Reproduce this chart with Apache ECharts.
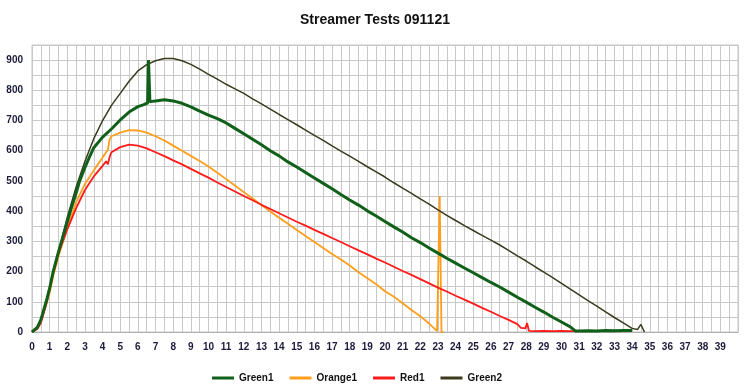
<!DOCTYPE html>
<html>
<head>
<meta charset="utf-8">
<script src="https://cdn.jsdelivr.net/npm/echarts@6/dist/echarts.min.js"></script>
<style>
html,body{margin:0;padding:0;background:#fff;}
#chart{width:750px;height:389px;}
</style>
</head>
<body>
<div id="chart"></div>
<script>
var chartTitle = 'Streamer Tests 091121';
var seriesNames = ['Green1', 'Orange1', 'Red1', 'Green2'];

var green1X = [0,0.3,0.5,0.8,1,1.2,1.5,1.7,2,2.2,2.5,2.7,3,3.3,3.5,4,4.5,5,5.5,6,6.3,6.55,6.6,6.68,7,7.5,8,8.5,9,9.5,10,10.5,11,11.5,12,12.5,13,13.5,14,14.5,15,15.5,16,16.5,17,17.5,18,18.5,19,19.5,20,20.5,21,21.5,22,22.5,23,23.5,24,24.5,25,25.5,26,26.5,27,27.5,28,28.5,29,29.5,30,30.5,30.8,31,31.5,32,32.5,33,33.5,34];
var green1Y = [0,15,40,100,145,200,265,305,365,405,460,500,545,585,610,645,672,702,728,746,752,758,900,762,765,769,765,757,745,731,718,706,692,674,656,638,620,600,583,563,546,528,510,492,474,455,437,420,401,384,366,348,331,312,296,278,261,244,228,212,196,180,164,149,132,115,99,82,66,49,33,17,3,3,4,3,5,4,5,5,5];

var orange1X = [0,0.3,0.5,0.8,1,1.2,1.5,2,2.5,3,3.5,4,4.3,4.4,4.5,5,5.5,6,6.5,7,7.5,8,8.5,9,9.5,10,10.5,11,11.5,12,12.5,13,13.5,14,14.5,15,15.5,16,16.5,17,17.5,18,18.5,19,19.5,20,20.5,21,21.5,22,22.5,22.95,23.05,23.1,23.17,23.2,23.3];
var orange1Y = [0,12,35,90,130,185,250,345,430,490,535,578,603,638,648,660,668,667,660,648,634,617,600,583,566,548,527,506,485,463,442,420,399,378,358,338,318,298,278,258,240,220,198,178,158,135,117,95,73,52,28,3,0,450,450,0,0];

var red1X = [0,0.3,0.5,0.8,1,1.2,1.5,2,2.5,3,3.5,4,4.2,4.3,4.4,4.5,5,5.5,6,6.5,7,7.5,8,8.5,9,9.5,10,10.5,11,11.5,12,12.5,13,13.5,14,14.5,15,15.5,16,16.5,17,17.5,18,18.5,19,19.5,20,20.5,21,21.5,22,22.5,23,23.5,24,24.5,25,25.5,26,26.5,27,27.5,27.7,27.95,28.05,28.15,28.5,29,29.5,30,30.5,30.8];
var red1Y = [0,10,30,90,140,195,260,340,410,470,515,550,565,555,580,595,612,620,617,608,595,582,568,555,540,525,511,495,480,465,450,436,421,407,393,379,365,352,338,325,311,298,284,270,257,243,230,216,202,189,175,161,147,134,120,107,94,80,67,53,40,26,14,12,30,4,3,4,3,4,3,3];

var green2X = [0,0.3,0.5,0.8,1,1.2,1.5,2,2.5,3,3.5,4,4.5,5,5.5,6,6.5,7,7.5,8,8.5,9,9.5,10,10.5,11,11.5,12,12.5,13,13.5,14,14.5,15,15.5,16,16.5,17,17.5,18,18.5,19,19.5,20,20.5,21,21.5,22,22.5,23,23.5,24,24.5,25,25.5,26,26.5,27,27.5,28,28.5,29,29.5,30,30.5,31,31.5,32,32.5,33,33.5,34,34.3,34.5,34.7];
var green2Y = [0,15,40,100,145,200,265,380,480,565,640,700,750,790,830,864,885,898,905,905,898,886,870,853,837,820,805,790,772,755,738,720,703,686,668,651,634,616,599,582,565,547,530,513,494,476,459,441,423,404,386,369,352,336,320,304,288,270,252,235,216,198,180,161,142,123,104,86,67,48,30,12,8,25,0];

function pairs(xs, ys) {
  return xs.map(function (x, i) { return [x, ys[i]]; });
}

var chart = echarts.init(document.getElementById('chart'));
var lbl = { fontFamily: 'Liberation Sans, Arial, sans-serif', fontWeight: 'bold', fontSize: 10, color: '#1a1a3a' };
chart.setOption({
  animation: false,
  backgroundColor: '#ffffff',
  title: {
    text: chartTitle,
    left: 'center',
    top: 8,
    textStyle: { fontFamily: 'Liberation Sans, Arial, sans-serif', fontWeight: 'bold', fontSize: 14, color: '#111' }
  },
  legend: {
    data: seriesNames,
    left: 207,
    top: 368,
    icon: 'rect',
    itemWidth: 22,
    itemHeight: 3,
    itemGap: 16,
    textStyle: { fontFamily: 'Liberation Sans, Arial, sans-serif', fontWeight: 'bold', fontSize: 10, color: '#111' }
  },
  grid: { left: 32, right: 12, top: 45, bottom: 57, show: true, borderColor: '#c4c4c4', borderWidth: 1 },
  xAxis: {
    type: 'value', min: 0, max: 40, interval: 0.5,
    axisLine: { show: true, lineStyle: { color: '#b0b0b0' } },
    axisTick: { show: false },
    splitLine: { show: true, lineStyle: { color: '#c8c8c8', width: 1 } },
    axisLabel: Object.assign({ margin: 10, formatter: function (v) { return (v % 1 === 0 && v < 40) ? String(v) : ''; } }, lbl)
  },
  yAxis: {
    type: 'value', min: 0, max: 950, interval: 50,
    axisLine: { show: false },
    axisTick: { show: false },
    splitLine: { show: true, lineStyle: { color: '#c8c8c8', width: 1 } },
    axisLabel: Object.assign({ margin: 9, formatter: function (v) { return (v % 100 === 0) ? String(v) : ''; } }, lbl)
  },
  series: [
    { name: 'Green1', type: 'line', data: pairs(green1X, green1Y), showSymbol: false, symbol: 'none', itemStyle: { color: '#11601a' }, lineStyle: { color: '#11601a', width: 3 }, z: 3 },
    { name: 'Orange1', type: 'line', data: pairs(orange1X, orange1Y), showSymbol: false, symbol: 'none', itemStyle: { color: '#ff9e1a' }, lineStyle: { color: '#ff9e1a', width: 1.8 }, z: 2 },
    { name: 'Red1', type: 'line', data: pairs(red1X, red1Y), showSymbol: false, symbol: 'none', itemStyle: { color: '#ff1a1a' }, lineStyle: { color: '#ff1a1a', width: 1.8 }, z: 2 },
    { name: 'Green2', type: 'line', data: pairs(green2X, green2Y), showSymbol: false, symbol: 'none', itemStyle: { color: '#3a3a1c' }, lineStyle: { color: '#3a3a1c', width: 1.5 }, z: 2 }
  ]
});
</script>
</body>
</html>
